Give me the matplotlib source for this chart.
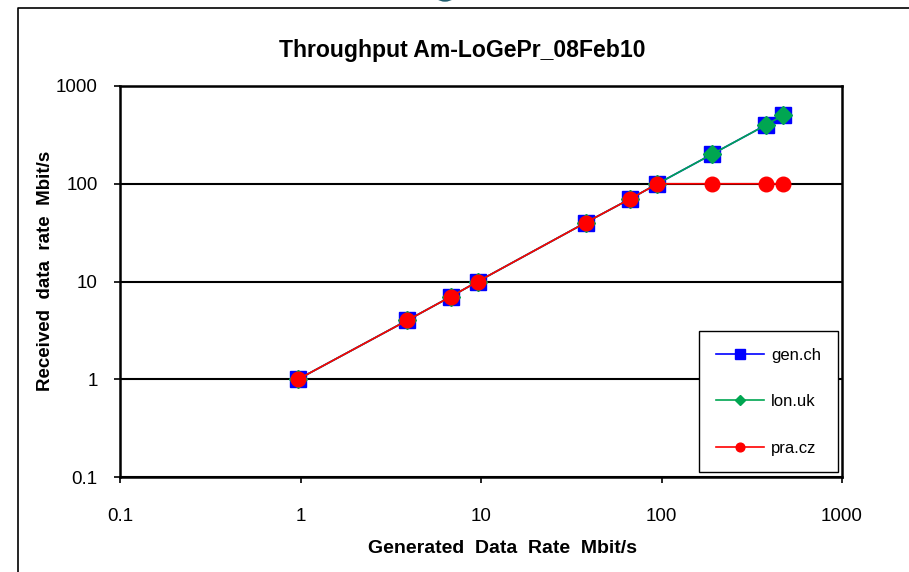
import matplotlib.pyplot as plt
from matplotlib.lines import Line2D
from matplotlib.patches import Ellipse

plt.rcParams['font.family'] = ['Liberation Sans', 'DejaVu Sans']

# data
gen_x = [0.97, 3.9, 6.8, 9.6, 38, 67, 95, 190, 380, 470]
gen_y = [1, 4, 7, 10, 40, 70, 100, 200, 400, 500]
lon_x = [0.97, 3.9, 6.8, 9.6, 38, 67, 95, 190, 380, 470]
lon_y = [1, 4, 7, 10, 40, 70, 100, 200, 400, 500]
pra_x = [0.97, 3.9, 6.8, 9.6, 38, 67, 95, 190, 380, 470]
pra_y = [1, 4, 7, 10, 40, 70, 100, 100, 100, 100]
tick_vals = [0.1, 1, 10, 100, 1000]
tick_labels = ["0.1", "1", "10", "100", "1000"]

W, H = 909, 572
fig = plt.figure(figsize=(W / 100, H / 100), dpi=100)
ax = fig.add_axes([120 / W, 1 - 477 / H, (842 - 120) / W, (477 - 86) / H])

ax.plot(gen_x, gen_y, color="#0000ff", lw=1.2, marker="s", ms=11,
        mfc="#0000ff", mec="#0000ff", label="gen.ch", zorder=3)
ax.plot(lon_x, lon_y, color="#00a651", lw=1.2, marker="D", ms=9,
        mfc="#00a651", mec="#00a651", label="lon.uk", zorder=4)
ax.plot(pra_x, pra_y, color="#ff0000", lw=1.2, marker="o", ms=10.5,
        mfc="#ff0000", mec="#ff0000", label="pra.cz", zorder=5)

ax.set_xscale("log")
ax.set_yscale("log")
ax.set_xlim(0.1, 1000)
ax.set_ylim(0.1, 1000)
ax.set_xticks(tick_vals)
ax.set_xticklabels(tick_labels)
ax.set_yticks(tick_vals)
ax.set_yticklabels(tick_labels)
ax.minorticks_off()
ax.tick_params(axis="both", direction="out", length=4, width=1.2,
               labelsize=13.5, color="black")
ax.tick_params(axis="x", pad=18)
ax.tick_params(axis="y", pad=12)
ax.grid(axis="y", color="black", lw=1.5)
ax.set_axisbelow(True)
for s in ax.spines.values():
    s.set_linewidth(1.8)
    s.set_color("black")

fig.text(462 / W, 1 - 51 / H, "Throughput Am-LoGePr_08Feb10", fontsize=16.6,
         fontweight="bold", ha="center", va="center")
ax.set_xlabel("Generated  Data  Rate  Mbit/s", fontsize=14, fontweight="bold")
ax.xaxis.set_label_coords((502 - 120) / 722, -(540 - 477) / 391)
ax.set_ylabel("Received  data  rate  Mbit/s", fontsize=13.5, fontweight="bold")
ax.yaxis.set_label_coords(-(120 - 54) / 722, (477 - 271) / 391)

leg = ax.legend(loc="lower right", bbox_to_anchor=(0.994, 0.012), fontsize=12,
                frameon=True, fancybox=False, framealpha=1, edgecolor="black",
                handlelength=2.9, labelspacing=1.88, borderpad=1.0, markerscale=0.6,
                handletextpad=0.4, borderaxespad=0)
leg.get_frame().set_linewidth(1.0)

# slide frame and logo fragment
fig.add_artist(Line2D([18 / W, 18 / W, 1.0], [0.0, 1 - 8 / H, 1 - 8 / H],
                      transform=fig.transFigure, color="black", lw=1.2))
fig.add_artist(Ellipse((445 / W, 1 + 8 / H), 22 / W, 18 / H,
                       transform=fig.transFigure, color="#1f5d6e"))

fig.savefig("out.png", dpi=100)
